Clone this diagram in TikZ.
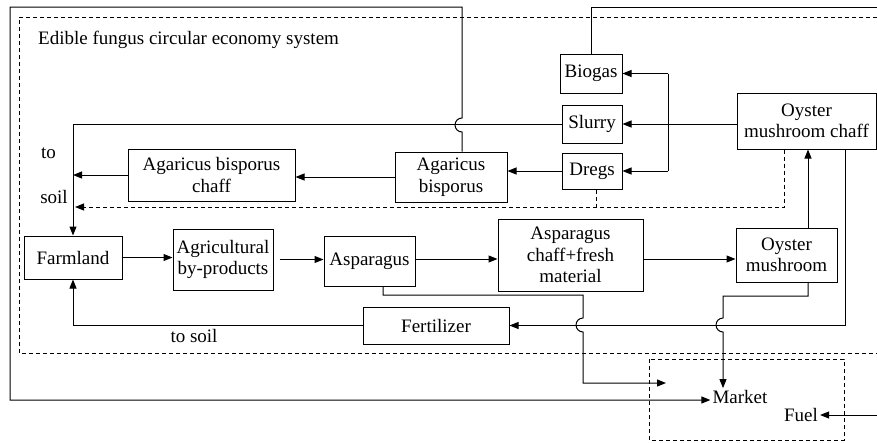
\documentclass[tikz,border=0pt]{standalone}
\usepackage{fontspec}
\setmainfont{Liberation Serif}
\newfontfamily\tnr{Liberation Serif}
\usetikzlibrary{arrows.meta}
\begin{document}
\begin{tikzpicture}[x=1pt,y=-1pt,
  every node/.style={font=\tnr\fontsize{19}{21.5}\selectfont},
  box/.style={draw, line width=1pt, inner sep=0pt, align=center},
  txt/.style={inner sep=2pt},
  arr/.style={-{Triangle[length=9pt,width=7pt]}},
  ln/.style={line width=1pt},
  dsh/.style={line width=1pt, dash pattern=on 4pt off 3pt},
]
\useasboundingbox (0,0) rectangle (877,442);

% boxes
\node[box,minimum width=62pt,minimum height=39pt] (biogas) at (591,73.5) {Biogas};
\node[box,minimum width=60pt,minimum height=38pt] (slurry) at (592,124) {Slurry};
\node[box,minimum width=60pt,minimum height=36pt] (dregs) at (592,171) {Dregs};
\node[box,minimum width=139pt,minimum height=56pt] (ochaff) at (806.5,121) {Oyster\\mushroom chaff};
\node[box,minimum width=112pt,minimum height=50pt] (agar) at (451,177) {Agaricus\\bisporus};
\node[box,minimum width=167pt,minimum height=52pt] (agchaff) at (211.5,175) {Agaricus bisporus\\chaff};
\node[box,minimum width=98pt,minimum height=43pt] (farm) at (73,257.5) {Farmland};
\node[box,minimum width=100pt,minimum height=61pt] (agri) at (223,259.5) {Agricultural\\by-products};
\node[box,minimum width=91pt,minimum height=50pt] (asp) at (369.5,261) {Asparagus};
\node[box,minimum width=145pt,minimum height=72pt] (aspchaff) at (570.5,255) {Asparagus\\chaff+fresh\\material};
\node[box,minimum width=101pt,minimum height=54pt] (oyster) at (786.5,255) {Oyster\\mushroom};
\node[box,minimum width=146pt,minimum height=37pt] (fert) at (436,325.5) {Fertilizer};
\node[txt] (market) at (740,397) {Market};
\node[txt] (fuel) at (801,415) {Fuel};

% labels
\node[txt,anchor=west] (title) at (36,40) {Edible fungus circular economy system};
\node[txt] (to1) at (48.5,153) {to};
\node[txt] (soil1) at (54,197) {soil};
\node[txt] (tosoil) at (194,336) {to soil};

% dashed frames
\draw[dsh] (877,17) -- (19,17) -- (19,353) -- (877,353);
\draw[dsh] (649,359) rectangle (844,440);

% connectors
\coordinate (j) at (668,124);
\draw[ln,arr] (slurry.east -| ochaff.west) -- (slurry.east);
\draw[ln,arr] (j |- biogas.east) -- (biogas.east);
\draw[ln] (j |- biogas.east) -- (j |- dregs.east);
\draw[ln,arr] (j |- dregs.east) -- (dregs.east);

\draw[ln,arr] (slurry.west) -- (slurry.west -| farm.north) -- (farm.north);
\draw[ln,arr] (dregs.west) -- (dregs.west -| agar.east);
\draw[ln,arr] (agar.west) -- (agar.west -| agchaff.east);
\draw[ln,arr] (agchaff.west) -- (agchaff.west -| farm.north);

\draw[dsh,arr] ([xshift=-22.5pt]ochaff.south) |- ([xshift=2pt]farm.north |- 0,207);
\draw[dsh] ([xshift=4pt]dregs.south) -- ++(0,18);

\draw[ln,arr] (farm.east) -- (farm.east -| agri.west);
\draw[ln,arr] ([xshift=6pt]agri.east) -- (agri.east -| asp.west);
\draw[ln,arr] ([yshift=2pt]asp.east) -- ([yshift=2pt]asp.east -| aspchaff.west);
\draw[ln,arr] ([yshift=-4pt]aspchaff.east) -- ([yshift=-4pt]aspchaff.east -| oyster.west);

\draw[ln,arr] ([xshift=21.5pt]oyster.north) -- ([xshift=21.5pt]oyster.north |- ochaff.south);
\draw[ln,arr] ([xshift=38.5pt]ochaff.south) |- (fert.east);
\draw[ln,arr] (fert.west) -| (farm.south);

\coordinate (m1) at (666,383);
\draw[ln,arr] ([xshift=13.5pt]asp.south) -- (383,295) -- (583,295) -- (583,318)
  arc[start angle=90,end angle=270,radius=7pt] -- (583,383) -- (m1);
\draw[ln,arr] ([xshift=21.5pt]oyster.south) -- (808,296) -- (723,296) -- (723,318)
  arc[start angle=90,end angle=270,radius=7pt] -- ([xshift=-17pt]market.north);

\draw[ln,arr] ([xshift=11pt]agar.north) -- (462,132)
  arc[start angle=-90,end angle=-270,radius=7pt] -- (462,7) -- (10,7) -- (10,400)
  -- ([yshift=-3pt]market.west);
\draw[ln] (biogas.north) -- (591,7) -- (877,7);
\coordinate (fr) at (877,415);
\draw[ln,arr] (fr) -- (fuel.east);
\end{tikzpicture}
\end{document}
